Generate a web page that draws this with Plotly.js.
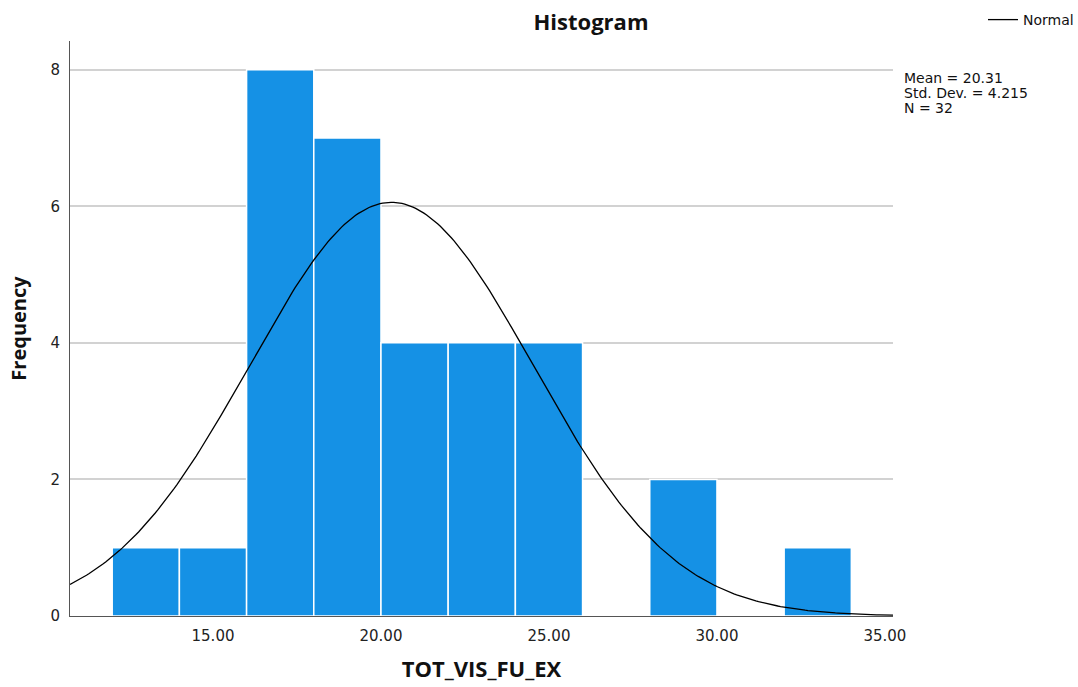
<!DOCTYPE html>
<html>
<head>
<meta charset="utf-8">
<script src="https://cdn.plot.ly/plotly-3.0.1.min.js"></script>
<style>html,body{margin:0;padding:0;background:#fff;}#chart{width:1078px;height:687px;}</style>
</head>
<body>
<div id="chart"></div>
<script>
// Histogram bins (bin centers, width 2) and counts
var binCenters = [13, 15, 17, 19, 21, 23, 25, 27, 29, 31, 33];
var binCounts  = [1, 1, 8, 7, 4, 4, 4, 0, 2, 0, 1];
var binWidth = 2;
// Summary statistics shown on chart
var meanVal = 20.31;
var sdVal = 4.215;
var nVal = 32;
var statLines = ["Mean = 20.31", "Std. Dev. = 4.215", "N = 32"];
var xTickVals = [15, 20, 25, 30, 35];
var xTickText = ["15.00", "20.00", "25.00", "30.00", "35.00"];
var yTickVals = [0, 2, 4, 6, 8];

var xRange = [10.744, 35.24];
var yRange = [0, 8.42];

// Normal curve scaled to frequency (derived from mean, sd, N, bin width)
var curveX = [], curveY = [];
var steps = 300;
for (var i = 0; i <= steps; i++) {
  var x = xRange[0] + (xRange[1] - xRange[0]) * i / steps;
  var z = (x - meanVal) / sdVal;
  curveX.push(x);
  curveY.push(nVal * binWidth / (sdVal * Math.sqrt(2 * Math.PI)) * Math.exp(-0.5 * z * z));
}

var bars = {
  type: 'bar',
  x: binCenters,
  y: binCounts,
  width: binWidth,
  marker: {color: '#1591e5', line: {color: '#ffffff', width: 1.5}},
  showlegend: false,
  hoverinfo: 'x+y'
};
var curve = {
  type: 'scatter',
  mode: 'lines',
  x: curveX,
  y: curveY,
  name: 'Normal',
  line: {color: '#000000', width: 1.3},
  showlegend: true
};

var annotations = statLines.map(function(t, k) {
  return {
    text: t, xref: 'paper', yref: 'paper',
    x: (902 - 70) / 823, xanchor: 'left',
    y: (616 - (78 + 15 * k)) / 575, yanchor: 'middle',
    showarrow: false,
    font: {family: 'DejaVu Sans, sans-serif', size: 14, color: '#111'}
  };
});

var layout = {
  width: 1078, height: 687,
  margin: {l: 70, r: 185, t: 41, b: 71, pad: 0, autoexpand: false},
  paper_bgcolor: '#ffffff', plot_bgcolor: '#ffffff',
  bargap: 0,
  title: {
    text: '<b>Histogram</b>',
    font: {family: 'Open Sans, sans-serif', size: 22, color: '#111'},
    xref: 'container', x: 591 / 1078, xanchor: 'center',
    yref: 'container', y: 1 - 22 / 687, yanchor: 'middle'
  },
  xaxis: {
    range: xRange,
    tickvals: xTickVals, ticktext: xTickText,
    showgrid: false, zeroline: false,
    showline: true, linecolor: '#555', linewidth: 1,
    ticks: '', ticklabelstandoff: 6,
    tickfont: {family: 'DejaVu Sans, sans-serif', size: 15, color: '#222'},
    title: {text: '<b>TOT_VIS_FU_EX</b>', standoff: 17,
            font: {family: 'Open Sans, sans-serif', size: 22, color: '#111'}}
  },
  yaxis: {
    range: yRange,
    tickvals: yTickVals,
    showgrid: true, gridcolor: '#d2d2d2', gridwidth: 2,
    zeroline: false,
    showline: true, linecolor: '#555', linewidth: 1,
    ticks: '', ticklabelstandoff: 6,
    tickfont: {family: 'DejaVu Sans, sans-serif', size: 15, color: '#222'},
    title: {text: '<b>Frequency</b>', standoff: 18,
            font: {family: 'Open Sans, sans-serif', size: 20, color: '#111'}}
  },
  showlegend: true,
  legend: {
    x: (983 - 70) / 823, xanchor: 'left',
    y: (616 - 20) / 575, yanchor: 'middle',
    font: {family: 'DejaVu Sans, sans-serif', size: 14, color: '#111'},
    bgcolor: 'rgba(0,0,0,0)', itemwidth: 30
  },
  annotations: annotations
};

Plotly.newPlot('chart', [bars, curve], layout, {displayModeBar: false, staticPlot: true});
</script>
</body>
</html>
